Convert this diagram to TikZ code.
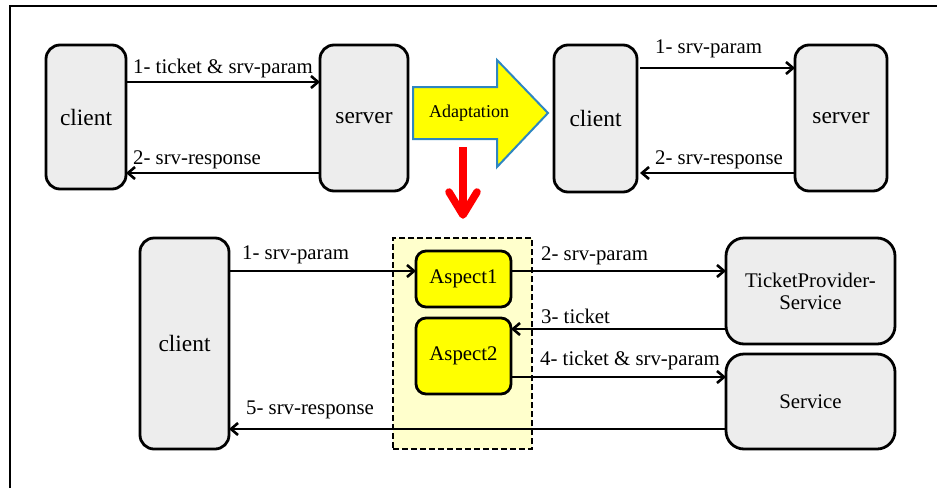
\documentclass[tikz,border=0pt]{standalone}
\usepackage{fontspec}
\setmainfont{Liberation Serif}
\usetikzlibrary{arrows.meta}
\definecolor{boxgray}{RGB}{237,237,237}
\definecolor{aspyellow}{RGB}{255,255,0}
\definecolor{zonefill}{RGB}{255,255,204}
\definecolor{adaptblue}{RGB}{46,134,193}
\definecolor{alertred}{RGB}{255,0,0}
\begin{document}
\begin{tikzpicture}[x=1pt,y=-1pt,
  box/.style={draw=black, line width=2.8pt, fill=boxgray, inner sep=0pt, outer sep=0pt,
              align=center, rounded corners=14pt},
  bigtext/.style={font=\fontsize{23.4}{26}\selectfont},
  midtext/.style={font=\fontsize{20.8}{23}\selectfont},
  aspect/.style={box, fill=aspyellow, rounded corners=10pt, midtext},
  service/.style={box, rounded corners=18pt, midtext},
  msg/.style={line width=2.6pt, -{Straight Barb[length=7pt,width=12pt]}},
  lbl/.style={anchor=base west, inner sep=0pt, font=\fontsize{20.8}{23}\selectfont}
]
\useasboundingbox (0,0) rectangle (937,488);
\fill[white] (0,0) rectangle (937,488);

% outer frame (top and left edges)
\draw[line width=2.8pt] (10,488) -- (10,6) -- (937,6);

% ---- original interaction ----
\node[box, bigtext, minimum width=80pt, minimum height=144pt] (c1) at (86,117) {client};
\node[box, bigtext, minimum width=88pt, minimum height=146pt] (s1) at (364,118) {server};
\coordinate (ya) at (0,82);
\coordinate (yb) at (0,173);
\draw[msg] (c1.east |- ya) -- (s1.west |- ya);
\draw[msg] (s1.west |- yb) -- (c1.east |- yb);
\node[lbl] (l1) at (133,73) {1- ticket \& srv-param};
\node[lbl] (l2) at (133,164) {2- srv-response};

% ---- adaptation arrow ----
\draw[draw=adaptblue, fill=aspyellow, line width=2pt, line join=miter]
  (413,87) -- (497,87) -- (497,60) -- (548,113) -- (497,167) -- (497,139) -- (413,139) -- cycle;
\node[font=\fontsize{18}{20}\selectfont, inner sep=0pt] (adapt) at (469,113) {Adaptation};

% red downward arrow
\coordinate (rtop) at (463,147);
\coordinate (rtip) at (463,215);
\coordinate (rl) at (449,192);
\coordinate (rr) at (477,192);
\draw[alertred, line width=7.5pt] (rtop) -- (463,210);
\draw[alertred, line width=7.5pt, line cap=round, line join=round] (rl) -- (rtip) -- (rr);

% ---- adapted interaction ----
\node[box, bigtext, minimum width=83pt, minimum height=147pt] (c2) at (595.5,118.5) {client};
\node[box, bigtext, minimum width=92pt, minimum height=146pt] (s2) at (841,118) {server};
\coordinate (yc) at (0,68);
\draw[msg] ([xshift=3pt]c2.east |- yc) -- (s2.west |- yc);
\draw[msg] (s2.west |- yb) -- ([xshift=3pt]c2.east |- yb);
\node[lbl] (l3) at (655,53) {1- srv-param};
\node[lbl] (l4) at (655,164) {2- srv-response};

% ---- aspect-based realisation ----
\node[draw=black, fill=zonefill, line width=2.4pt, dash pattern=on 6pt off 3pt,
      minimum width=139pt, minimum height=211pt, inner sep=0pt] (zone) at (462.5,343.5) {};
\node[box, bigtext, minimum width=89pt, minimum height=211pt] (c3) at (184.5,343.5) {client};
\node[aspect, minimum width=95pt, minimum height=56pt] (a1) at (463.5,279) {Aspect1};
\node[aspect, minimum width=95pt, minimum height=76pt] (a2) at (463.5,356) {Aspect2};
\node[service, minimum width=169pt, minimum height=106pt] (tp) at (810.5,291) {TicketProvider-\\[-1pt]Service};
\node[service, minimum width=169pt, minimum height=95pt] (sv) at (810.5,401.5) {Service};

\coordinate (y1) at (0,271);
\coordinate (y3) at (0,329);
\coordinate (y4) at (0,377);
\coordinate (y5) at (0,429);
\draw[msg] (c3.east |- y1) -- (a1.west |- y1);
\draw[msg] (a1.east |- y1) -- (tp.west |- y1);
\draw[msg] (tp.west |- y3) -- (a2.east |- y3);
\draw[msg] (a2.east |- y4) -- (sv.west |- y4);
\draw[msg] (sv.west |- y5) -- (c3.east |- y5);

\node[lbl] (m1) at (242,259) {1- srv-param};
\node[lbl] (m2) at (541,260) {2- srv-param};
\node[lbl] (m3) at (541,323) {3- ticket};
\node[lbl] (m4) at (540,365) {4- ticket \& srv-param};
\node[lbl] (m5) at (246,414) {5- srv-response};
\end{tikzpicture}
\end{document}
